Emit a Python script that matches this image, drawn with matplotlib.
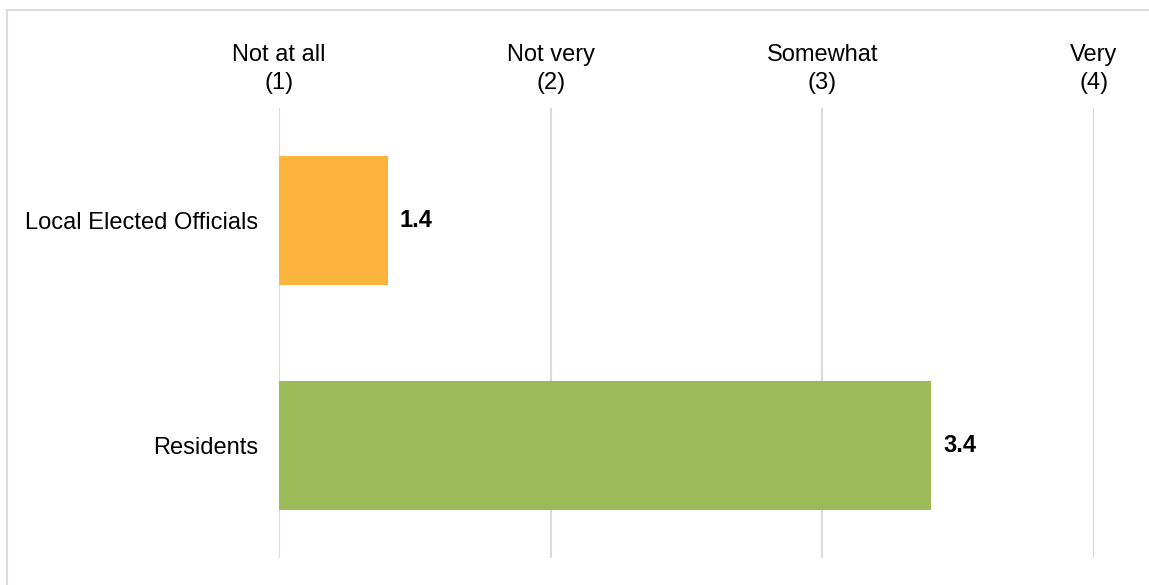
import matplotlib.pyplot as plt
from matplotlib.lines import Line2D

plt.rcParams['font.family'] = ['Liberation Sans', 'DejaVu Sans']

groups = ["Local Elected Officials", "Residents"]
scores = [1.4, 3.4]
bar_colors = ["#FDB43D", "#9BBB59"]
tick_values = [1, 2, 3, 4]
tick_labels = ["Not at all\n(1)", "Not very\n(2)", "Somewhat\n(3)", "Very\n(4)"]

fig = plt.figure(figsize=(11.49, 5.85), dpi=100)
ax = fig.add_axes([0.2428, 0.0462, 0.7093, 0.7692])

ypos = list(range(len(groups)))
ax.barh(ypos, [s - 1 for s in scores], left=1, height=0.57, color=bar_colors, zorder=3)

for y, s in zip(ypos, scores):
    ax.text(s + 0.045, y, f"{s:.1f}", va="center", ha="left",
            fontsize=17, fontweight="bold", color="black")

ax.set_xlim(1, 4)
ax.set_ylim(1.5, -0.5)
ax.set_yticks(ypos)
ax.set_yticklabels(groups, fontsize=17)
ax.set_xticks(tick_values)
ax.set_xticklabels(tick_labels, fontsize=17, linespacing=1.35)
ax.xaxis.tick_top()
ax.tick_params(axis="x", length=0, pad=10)
ax.tick_params(axis="y", length=0, pad=15)
ax.grid(axis="x", color="#d9d9d9", linewidth=1.5, zorder=0)
for sp in ax.spines.values():
    sp.set_visible(False)

# outer frame (top and left edges only are visible in the source)
fig.add_artist(Line2D([0.006, 1.0], [0.983, 0.983], color="#dcdcdc", linewidth=1.5))
fig.add_artist(Line2D([0.006, 0.006], [0.0, 0.983], color="#dcdcdc", linewidth=1.5))

fig.savefig("out.png", dpi=100)
